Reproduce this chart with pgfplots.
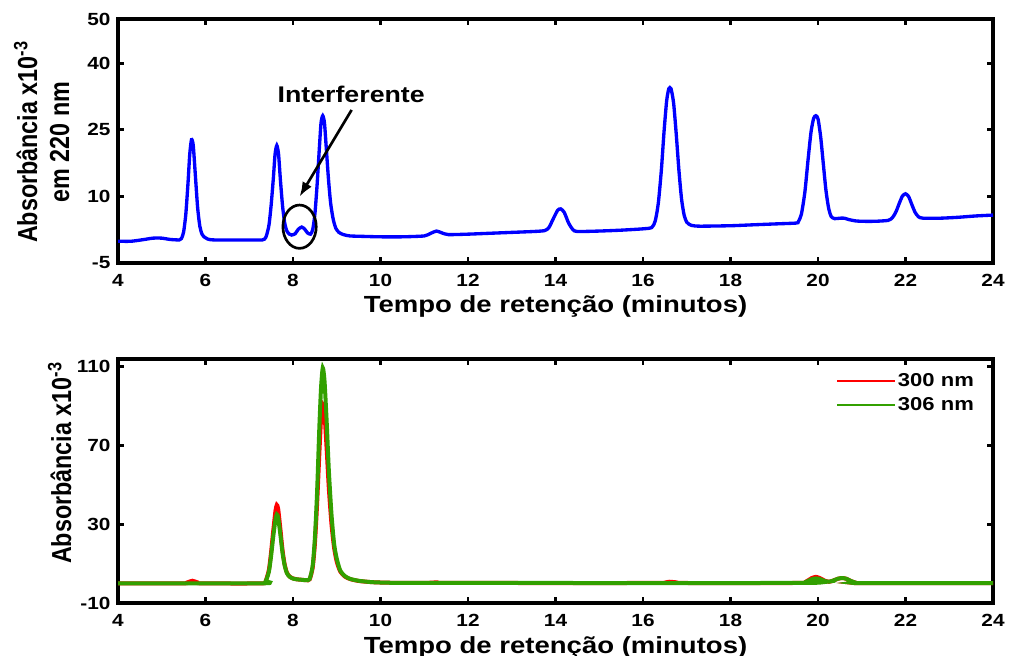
\documentclass[border=0pt]{standalone}
\usepackage{fontspec}
\setmainfont{Liberation Sans}[FakeStretch=1.18]
\newfontfamily\ylfont{Liberation Sans}
\usepackage{graphicx}
\usepackage{pgfplots}
\pgfplotsset{compat=1.18}
\usetikzlibrary{arrows.meta}
\definecolor{myblue}{RGB}{0,0,255}
\definecolor{myred}{RGB}{255,0,0}
\definecolor{mygreen}{RGB}{50,160,0}

\pgfplotsset{
  chrom/.style={
    scale only axis, width=656.25pt, height=183pt,
    xmin=4, xmax=24, xtick={4,6,...,24},
    tick pos=both, tick align=inside,
    major tick length=4.5pt,
    every axis/.append style={line width=2.4pt},
    every tick/.append style={black, line width=2.2pt},
    major tick style={black, line width=2.2pt},
    axis line style={line width=2.4pt},
    /pgf/number format/assume math mode=true,
    tick label style={font=\bfseries\fontsize{13.2}{15}\selectfont, inner sep=0pt},
    xticklabel style={yshift=-7.5pt},
    yticklabel style={xshift=-4.5pt},
    xlabel={Tempo de retenção (minutos)},
    xlabel style={font=\bfseries\fontsize{17.5}{20}\selectfont, at={(axis description cs:0.5,0)}, anchor=base, yshift=-37.5pt},
  }
}

\pgfplotstableread{
x y
4.00 -0.1
4.30 -0.1
4.60 0.3
4.80 0.6
5.00 0.6
5.20 0.3
5.40 0.2
5.45 0.5
5.50 2.0
5.55 6.0
5.60 13.0
5.64 19.5
5.68 22.8
5.72 21.5
5.77 14.5
5.82 7.5
5.87 3.3
5.92 1.5
5.98 0.8
6.05 0.4
6.20 0.2
7.00 0.2
7.30 0.2
7.38 0.8
7.45 3.5
7.50 8.0
7.55 14.0
7.59 19.5
7.63 21.5
7.67 19.5
7.71 14.0
7.76 8.0
7.81 4.0
7.86 2.2
7.92 1.5
7.97 1.3
8.05 1.6
8.12 2.6
8.20 3.1
8.27 2.6
8.33 1.8
8.40 1.5
8.45 2.5
8.50 6.0
8.55 12.5
8.60 20.5
8.64 26.5
8.68 28.2
8.72 26.5
8.76 21.0
8.81 14.0
8.86 8.5
8.92 4.8
8.98 2.8
9.05 1.9
9.15 1.4
9.30 1.1
9.60 1.0
10.00 0.9
10.50 0.9
11.00 1.1
11.15 1.7
11.28 2.2
11.40 1.8
11.55 1.4
12.00 1.5
12.50 1.7
13.00 1.9
13.50 2.1
13.75 2.3
13.85 3.0
13.95 5.0
14.05 6.9
14.12 7.2
14.20 6.4
14.30 4.0
14.40 2.5
14.50 2.1
15.00 2.2
15.50 2.4
16.00 2.7
16.20 3.0
16.28 4.5
16.35 8.5
16.42 16.0
16.48 24.5
16.54 31.5
16.59 34.3
16.64 34.3
16.70 31.0
16.76 24.0
16.82 16.0
16.88 9.5
16.94 5.8
17.00 4.2
17.10 3.5
17.30 3.3
18.00 3.4
18.50 3.6
19.00 3.8
19.50 4.0
19.55 4.3
19.62 6.0
19.70 11.0
19.77 18.0
19.84 24.5
19.90 27.6
19.95 28.2
20.00 27.5
20.06 23.5
20.12 17.5
20.18 11.5
20.24 7.5
20.30 5.5
20.38 5.0
20.50 5.1
20.60 5.1
20.70 4.8
20.85 4.5
21.00 4.4
21.30 4.4
21.60 4.6
21.70 5.2
21.78 6.5
21.86 8.5
21.93 10.1
22.00 10.6
22.07 10.0
22.14 8.3
22.22 6.4
22.30 5.4
22.40 5.1
22.80 5.1
23.20 5.3
23.60 5.6
24.00 5.8
}\bluedata

\pgfplotstableread{
x y
4.00 0
5.50 0
5.60 0.6
5.70 1.3
5.80 0.6
5.90 0
7.30 0
7.38 1.5
7.45 7
7.50 16
7.55 27
7.60 37
7.63 39.8
7.66 38
7.71 28
7.76 17
7.81 9.5
7.86 5.5
7.92 3.5
8.00 2.5
8.10 2.0
8.20 1.8
8.30 1.6
8.38 2.0
8.45 8
8.50 20
8.55 40
8.60 65
8.64 83
8.68 91.0
8.72 86
8.77 68
8.82 48
8.88 30
8.94 18
9.00 11
9.08 6
9.18 3.5
9.30 2.2
9.50 1.2
9.80 0.6
10.20 0.3
11.00 0.2
11.30 0.5
11.50 0.2
16.50 0.2
16.60 0.8
16.70 0.2
19.60 0.2
19.75 1.2
19.85 2.6
19.95 3.3
20.05 2.6
20.15 1.4
20.25 0.8
20.35 1.4
20.45 2.3
20.55 2.7
20.65 2.3
20.75 1.2
20.85 0.4
21.00 0.1
24.00 0.1
}\reddata

\pgfplotstableread{
x y
4.00 0
7.30 0
7.38 1.3
7.45 6
7.50 14
7.55 24
7.60 32.5
7.63 35.0
7.66 33.5
7.71 25
7.76 15.5
7.81 9
7.86 5.2
7.92 3.4
8.00 2.4
8.10 2.0
8.20 1.8
8.30 1.6
8.38 2.2
8.45 9
8.50 23
8.55 46
8.60 78
8.64 99
8.68 109.5
8.72 103
8.77 82
8.82 57
8.88 35
8.94 20
9.00 12.5
9.08 6.5
9.18 3.8
9.30 2.3
9.50 1.3
9.80 0.6
10.20 0.3
11.00 0.2
19.60 0.2
19.75 1.0
19.85 2.0
19.95 2.5
20.05 2.1
20.15 1.2
20.25 0.8
20.35 1.4
20.45 2.3
20.55 2.7
20.65 2.3
20.75 1.2
20.85 0.4
21.00 0.1
24.00 0.1
}\greendata

\begin{document}
\begin{tikzpicture}
\begin{axis}[chrom,
  at={(88.5pt,-14.25pt)}, anchor=north west,
  ymin=-5, ymax=50, ytick={-5,10,25,40,50},
  ylabel={\scalebox{1}[1.18]{Absorbância x10\textsuperscript{-3}}\\\scalebox{1}[1.18]{em 220 nm}},
  ylabel style={font=\ylfont\bfseries\fontsize{17.5}{24}\selectfont, align=center,
    at={(axis description cs:-0.0537,0.496)}, anchor=south, inner sep=0pt},
]
\addplot[myblue, line width=2.5pt, smooth, tension=0.4] table[x=x,y=y] {\bluedata};
\node[font=\bfseries\fontsize{17}{19}\selectfont, anchor=base] at (axis cs:9.33,31.1) {Interferente};
\draw[line width=2pt, -{Latex[length=11pt,width=8pt]}] (axis cs:9.34,29.5) -- (axis cs:8.15,9.95);
\draw[line width=2pt] (axis cs:8.15,3.18) ellipse [x radius=12.5pt, y radius=16.25pt];
\end{axis}

\begin{axis}[chrom,
  at={(88.5pt,-269.25pt)}, anchor=north west,
  ymin=-10, ymax=114, ytick={-10,30,70,110},
  ylabel={\scalebox{1}[1.18]{Absorbância x10\textsuperscript{-3}}},
  ylabel style={font=\ylfont\bfseries\fontsize{17.5}{24}\selectfont,
    at={(axis description cs:-0.0514,0.574)}, anchor=south, inner sep=0pt},
  legend style={at={(axis description cs:0.819,0.955)}, anchor=north west, draw=none, fill=none,
    font=\bfseries\fontsize{14}{16}\selectfont, inner sep=0pt, row sep=3.5pt,
    nodes={inner sep=1.5pt}},
  legend cell align=left,
  legend image code/.code={\draw[#1, line width=1.8pt] (0pt,0pt) -- (43pt,0pt);},
]
\addplot[myred, line width=3pt, smooth, tension=0.4] table[x=x,y=y] {\reddata};
\addlegendentry{300 nm}
\addplot[mygreen, line width=3pt, smooth, tension=0.4] table[x=x,y=y] {\greendata};
\addlegendentry{306 nm}
\end{axis}
\pgfresetboundingbox
\useasboundingbox (0,0) rectangle (759.75pt,-492pt);
\end{tikzpicture}
\end{document}
